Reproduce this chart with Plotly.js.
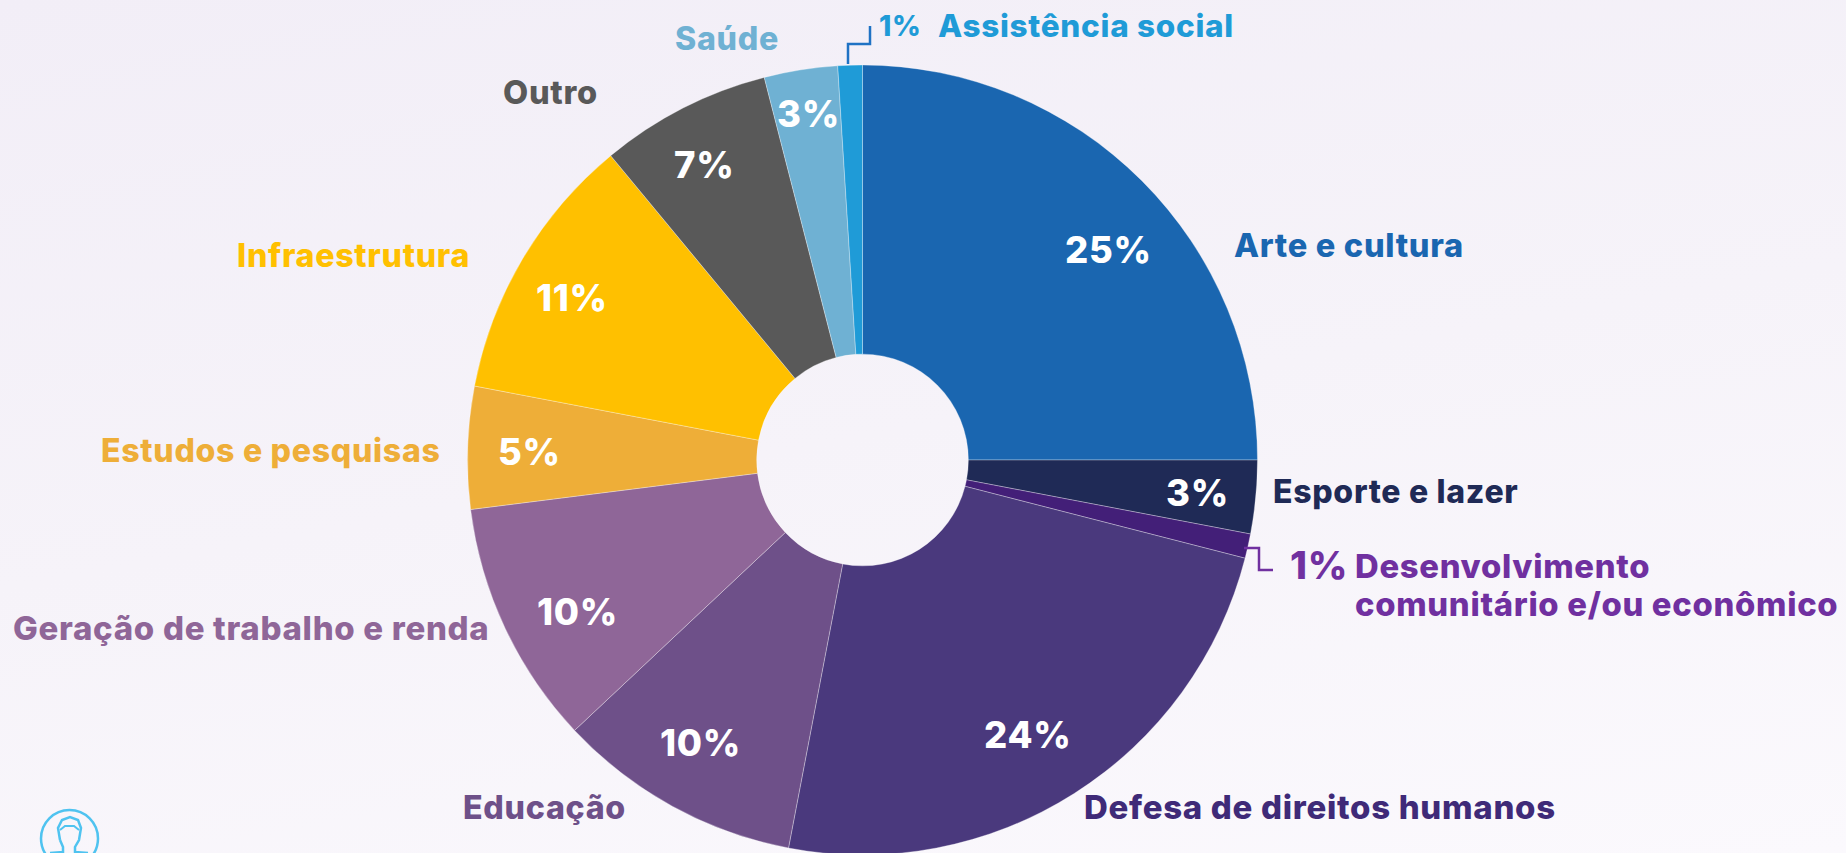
<!DOCTYPE html>
<html><head><meta charset="utf-8">
<script src="https://cdn.plot.ly/plotly-3.0.1.min.js"></script>
<style>
html,body{margin:0;padding:0;width:1846px;height:853px;overflow:hidden;background:linear-gradient(170deg,#f2eef7 0%,#f6f3f9 50%,#fbf9fd 100%);}
#chart{width:1846px;height:853px;overflow:hidden;}
.annotation-text{letter-spacing:0.7px;}
</style></head><body><div id="chart"></div>
<script>
const categories=["Arte e cultura","Esporte e lazer","Desenvolvimento<br>comunitário e/ou econômico","Defesa de direitos humanos","Educação","Geração de trabalho e renda","Estudos e pesquisas","Infraestrutura","Outro","Saúde","Assistência social"];
const values=[25,3,1,24,10,10,5,11,7,3,1];
const sliceColors=["#1a66b0","#1f2a56","#431f78","#4a397d","#6e5089","#8f6698","#eeae38","#ffc000","#595959","#6fb1d3","#1f9bd7"];
const nameColors=["#1a66b0","#1f2a56","#7030a0","#3f2a78","#6e5089","#8f6698","#eeae38","#ffc000","#595959","#6fb1d3","#1f9bd7"];
const nameSizes=[32.6,32,32.8,33,32.2,33,32.1,32.2,32.6,32.2,31.5];
const pctSizes=[36.5,36.5,38.5,36.5,36.5,36.5,36.5,36.5,36.5,36.5,28];
// pixel anchors of the labels
const pctPos=[[1108,250],[1197,493],[1319,565],[1028,735],[700,743],[577,612],[529,452],[572,298],[704,165],[808,114],[900,26]];
const namePos=[[1232,245],[1271,492],[1353,566],[1082,807],[461,807],[11,628],[99,451],[235,255],[501,92],[673,38],[936,26]];
const lineGap=38;
const W=1846,H=900; // drawn taller than the 853px window: the pie runs off the bottom edge
const px=x=>x/W, py=y=>1-y/H;
const FONT="Inter, sans-serif";
const annotations=[];
values.forEach((v,i)=>{
  annotations.push({xref:"paper",yref:"paper",x:px(pctPos[i][0]),y:py(pctPos[i][1]),xanchor:"center",yanchor:"middle",showarrow:false,
    text:v+"%",font:{family:FONT,weight:800,size:pctSizes[i],color:i===2?"#7030a0":(i===10?"#1f9bd7":"#ffffff")}});
  categories[i].split("<br>").forEach((line,k)=>{
    annotations.push({xref:"paper",yref:"paper",x:px(namePos[i][0]),y:py(namePos[i][1]+k*lineGap),xanchor:"left",yanchor:"middle",align:"left",showarrow:false,
      text:line,font:{family:FONT,weight:800,size:nameSizes[i],color:nameColors[i]}});
  });
});
const pathOf=(pts)=>pts.map((p,i)=>(i?"L":"M")+px(p[0])+","+py(p[1])).join(" ");
const shapes=[
 {type:"path",xref:"paper",yref:"paper",path:pathOf([[848,64],[848,44],[870,44],[870,26]]),line:{color:"#1f72c4",width:2.5}},
 {type:"path",xref:"paper",yref:"paper",path:pathOf([[1244,548],[1259,548],[1259,570],[1273,570]]),line:{color:"#7030a0",width:2.5}},
 {type:"circle",xref:"paper",yref:"paper",x0:px(41),x1:px(98),y0:py(867),y1:py(810),line:{color:"#4fc3f0",width:2.5}},
 {type:"path",xref:"paper",yref:"paper",path:pathOf([[60,840],[58,828],[62,820],[70,817],[78,820],[81,828],[79,840],[75,847],[75,852],[88,853]]),line:{color:"#4fc3f0",width:2.5}},
 {type:"path",xref:"paper",yref:"paper",path:pathOf([[60,840],[63,847],[63,852],[50,853]]),line:{color:"#4fc3f0",width:2.5}},
 {type:"path",xref:"paper",yref:"paper",path:pathOf([[60,830],[65,826],[74,826],[79,830]]),line:{color:"#4fc3f0",width:2}}
];
Plotly.newPlot("chart",[{type:"pie",labels:categories,values:values,sort:false,direction:"clockwise",rotation:0,hole:0.268,
  textinfo:"none",automargin:false,showlegend:false,domain:{x:[0,1725/W],y:[1-855/H,1-65/H]},
  marker:{colors:sliceColors,line:{color:"rgba(255,255,255,0.45)",width:0.7}}}],
 {width:W,height:H,margin:{l:0,r:0,t:0,b:0},paper_bgcolor:"rgba(0,0,0,0)",plot_bgcolor:"rgba(0,0,0,0)",showlegend:false,annotations,shapes},
 {displayModeBar:false,staticPlot:true});
</script></body></html>
